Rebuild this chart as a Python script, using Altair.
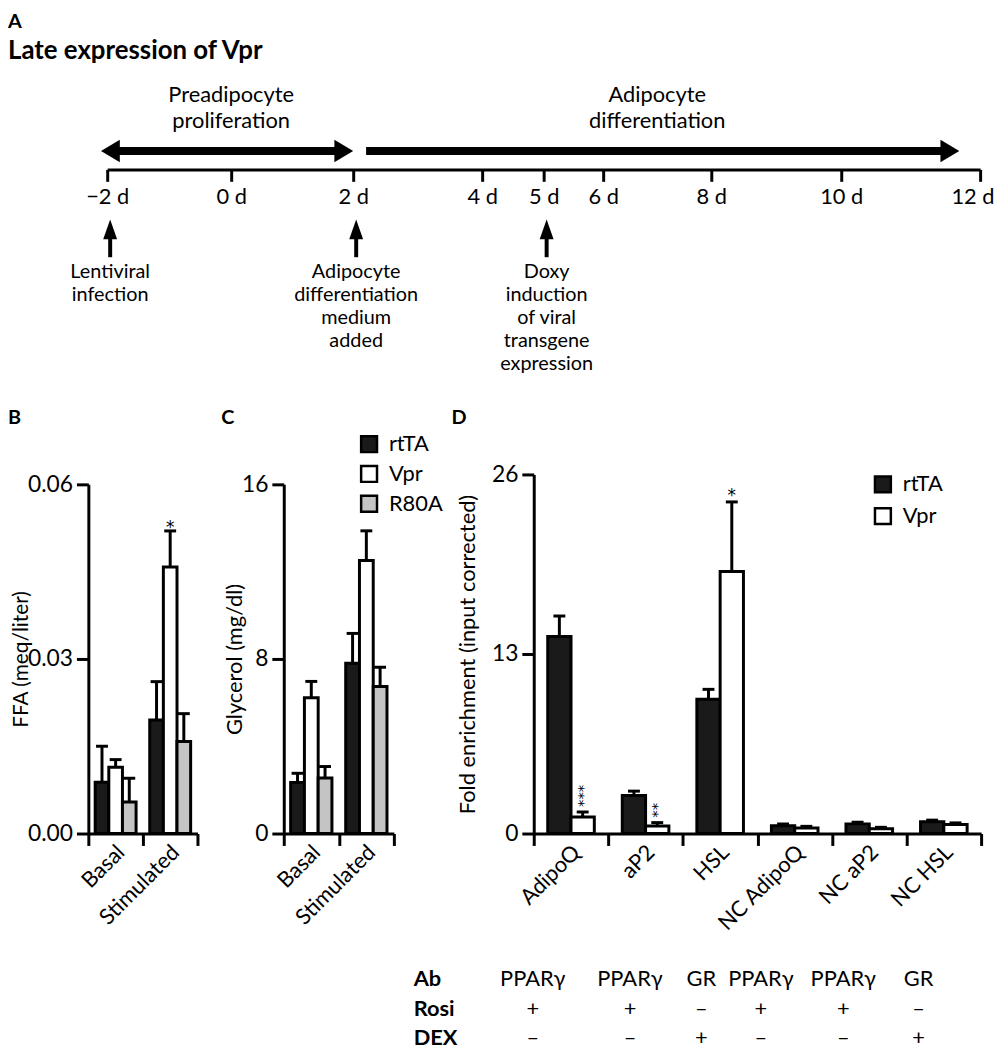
import altair as alt
import pandas as pd

# ---------------- data ----------------
timeline_days = [-2, 0, 2, 4, 5, 6, 8, 10, 12]

phase_labels = ["Preadipocyte\nproliferation", "Adipocyte\ndifferentiation"]
phase_start = [-2.1, 2.2]
phase_end = [2.0, 11.7]
phase_label_day = [0, 7]
phase_two_heads = [True, False]

event_days = [-2, 2, 5]
event_labels = [
    "Lentiviral\ninfection",
    "Adipocyte\ndifferentiation\nmedium\nadded",
    "Doxy\ninduction\nof viral\ntransgene\nexpression",
]

lip_groups = ["Basal", "Stimulated"]
lip_series = ["rtTA", "Vpr", "R80A"]
ffa_mean = {"rtTA": [0.0088, 0.0195], "Vpr": [0.0114, 0.0458], "R80A": [0.0054, 0.0158]}
ffa_err = {"rtTA": [0.0062, 0.0066], "Vpr": [0.0013, 0.0062], "R80A": [0.0041, 0.0048]}
gly_mean = {"rtTA": [2.34, 7.80], "Vpr": [6.22, 12.51], "R80A": [2.54, 6.74]}
gly_err = {"rtTA": [0.42, 1.37], "Vpr": [0.75, 1.36], "R80A": [0.53, 0.88]}
ffa_sig = [("Stimulated", "Vpr", "*")]

genes = ["AdipoQ", "aP2", "HSL", "NC AdipoQ", "NC aP2", "NC HSL"]
chip_series = ["rtTA", "Vpr"]
chip_mean = {"rtTA": [14.27, 2.75, 9.72, 0.57, 0.70, 0.85],
             "Vpr": [1.20, 0.55, 18.98, 0.40, 0.35, 0.65]}
chip_err = {"rtTA": [1.48, 0.32, 0.72, 0.12, 0.12, 0.12],
            "Vpr": [0.36, 0.24, 5.03, 0.12, 0.10, 0.12]}
chip_sig = [("AdipoQ", "Vpr", "***"), ("aP2", "Vpr", "**"), ("HSL", "Vpr", "*")]

table_rows = ["Ab", "Rosi", "DEX"]
table_ab = ["PPARγ", "PPARγ", "GR", "PPARγ", "PPARγ", "GR"]
table_rosi = ["+", "+", "–", "+", "+", "–"]
table_dex = ["–", "–", "+", "–", "–", "+"]

# ---------------- layout / style ----------------
W, H = 995, 1042
FONT = "Lato"
STAR_FONT = "DejaVu Sans"


def P(v):
    return v - 8


TL_TICK_PX = [108, 233, 356, 486, 548, 608, 717, 848, 988]
TABLE_COL_PX = [537, 635, 707, 767, 850, 926]
BLACK, WHITE, GRAY = "#1a1a1a", "#ffffff", "#c4c4c4"
RIGHT_HEAD = "M0,0L-1,-0.6L-1,0.6Z"
LEFT_HEAD = "M0,0L1,-0.6L1,0.6Z"
UP_HEAD = "M0,0L-0.35,1L0.35,1Z"

# ---------------- panel A: timeline ----------------
tl_scale = alt.Scale(domain=timeline_days, range=[P(v) for v in TL_TICK_PX], nice=False, zero=False)
tl_axis = alt.Axis(
    orient="bottom", offset=P(166.5) - H, values=timeline_days, title=None,
    tickSize=12, tickWidth=3, domainWidth=3, labelFontSize=22, labelPadding=5,
    labelOverlap=False, labelFlush=False,
    labelAlign={"condition": {"test": "datum.value == 12", "value": "right"}, "value": "center"},
    labelOffset={"condition": {"test": "datum.value == 12", "value": 14}, "value": 0},
    labelExpr="(datum.value < 0 ? '−' + abs(datum.value) : datum.value) + ' d'")


def AX(f):
    return alt.X(f, scale=tl_scale, axis=tl_axis)


phase_df = pd.DataFrame({"label": phase_labels, "start": phase_start, "end": phase_end,
                         "label_day": phase_label_day, "two_heads": phase_two_heads})
ev_df = pd.DataFrame({"day": event_days, "label": event_labels})

shaft_a = alt.Chart(phase_df).transform_filter("datum.two_heads").mark_rule(
    color="black", strokeWidth=8, xOffset=16, x2Offset=-16).encode(
    x=AX("start:Q"), x2="end:Q", y=alt.value(P(148)))
shaft_b = alt.Chart(phase_df).transform_filter("!datum.two_heads").mark_rule(
    color="black", strokeWidth=8, x2Offset=-16).encode(
    x=AX("start:Q"), x2="end:Q", y=alt.value(P(148)))
rhead = alt.Chart(phase_df).mark_point(shape=RIGHT_HEAD, size=1444, filled=True, color="black",
                                       opacity=1, strokeWidth=0).encode(
    x=AX("end:Q"), y=alt.value(P(148)))
lhead = alt.Chart(phase_df).transform_filter("datum.two_heads").mark_point(
    shape=LEFT_HEAD, size=1444, filled=True, color="black", opacity=1, strokeWidth=0).encode(
    x=AX("start:Q"), y=alt.value(P(148)))
ptext = alt.Chart(phase_df).mark_text(fontSize=22, lineBreak="\n", lineHeight=26, align="center",
                                      baseline="top").encode(
    x=AX("label_day:Q"), y=alt.value(P(82)), text="label:N")

ev_shaft = alt.Chart(ev_df).mark_rule(color="black", strokeWidth=4, xOffset=3).encode(
    x=AX("day:Q"), y=alt.value(P(234)), y2=alt.value(P(255)))
ev_head = alt.Chart(ev_df).mark_point(shape=UP_HEAD, size=1600, filled=True, color="black",
                                      opacity=1, strokeWidth=0, xOffset=3).encode(
    x=AX("day:Q"), y=alt.value(P(217)))
ev_text = alt.Chart(ev_df).mark_text(fontSize=20, lineBreak="\n", lineHeight=23.3, align="center",
                                     baseline="top", dx=3).encode(
    x=AX("day:Q"), y=alt.value(P(260)), text="label:N")

panel_a = alt.layer(shaft_a, shaft_b, rhead, lhead, ptext, ev_shaft, ev_head, ev_text)


# ---------------- bar panels ----------------
def long_df(mean, err, groups, series):
    rows = []
    for s in series:
        for i, g in enumerate(groups):
            rows.append({"group": g, "series": s, "mean": mean[s][i], "top": mean[s][i] + err[s][i]})
    return pd.DataFrame(rows)


def sig_df(df, sig):
    rows = []
    for g, s, m in sig:
        top = float(df[(df.group == g) & (df.series == s)]["top"].iloc[0])
        rows.append({"group": g, "series": s, "mark": m, "top": top})
    return pd.DataFrame(rows)


def bar_panel(df, sig, groups, series, colors, ydomain, yvalues, yfmt, xpx, ytop, ytitle,
              tpad, tsize, legend, opad, star_dy):
    xsc = alt.Scale(domain=groups, range=[P(xpx[0]), P(xpx[1])], paddingInner=0, paddingOuter=0)
    xax = alt.Axis(orient="bottom", offset=P(836) - H, title=None, tickBand="extent", tickSize=12,
                   tickWidth=3, domainWidth=3, labelAngle=-45, labelAlign="right",
                   labelBaseline="middle", labelFontSize=22, labelPadding=3, labelOffset=5,
                   labelOverlap=False)
    ysc = alt.Scale(domain=ydomain, range=[P(836), P(ytop)], nice=False, zero=True)
    yax = alt.Axis(orient="left", offset=-P(xpx[0]), values=yvalues, format=yfmt, title=ytitle,
                   titleFontSize=tsize, titleFontWeight="normal", titleBaseline="alphabetic",
                   titlePadding=tpad, tickSize=12, tickWidth=3, domainWidth=3, labelFontSize=23,
                   labelPadding=4)
    X = alt.X("group:N", sort=groups, scale=xsc, axis=xax)
    XO = alt.XOffset("series:N", sort=series,
                     scale=alt.Scale(domain=series, paddingInner=0, paddingOuter=opad))

    def Y(f):
        return alt.Y(f, scale=ysc, axis=yax)

    bars = alt.Chart(df).mark_bar(stroke="black", strokeWidth=3).encode(
        x=X, xOffset=XO, y=Y("mean:Q"),
        fill=alt.Fill("series:N", sort=series, scale=alt.Scale(domain=series, range=colors),
                      legend=legend))
    err = alt.Chart(df).mark_rule(color="black", strokeWidth=3).encode(
        x=X, xOffset=XO, y=Y("mean:Q"), y2="top:Q")
    cap = alt.Chart(df).mark_tick(color="black", size=12, thickness=3, opacity=1).encode(
        x=X, xOffset=XO, y=Y("top:Q"))
    star_h = alt.Chart(sig).transform_filter("length(datum.mark) == 1").mark_text(
        font=STAR_FONT, fontSize=17, color="black", fill="black", baseline="alphabetic",
        dy=star_dy).encode(
        x=X, xOffset=XO, y=Y("top:Q"), text="mark:N")
    star_v = alt.Chart(sig).transform_filter("length(datum.mark) > 1").mark_text(
        font=STAR_FONT, fontSize=15, color="black", fill="black", angle=270, align="left",
        baseline="middle", dx=5).encode(
        x=X, xOffset=XO, y=Y("top:Q"), text="mark:N")
    return alt.layer(bars, err, cap, star_h, star_v)


ffa_df = long_df(ffa_mean, ffa_err, lip_groups, lip_series)
gly_df = long_df(gly_mean, gly_err, lip_groups, lip_series)
chip_df = long_df(chip_mean, chip_err, genes, chip_series)

panel_b = bar_panel(ffa_df, sig_df(ffa_df, ffa_sig), lip_groups, lip_series, [BLACK, WHITE, GRAY],
                    [0, 0.06], [0, 0.03, 0.06], ".2f", (89, 199), 484, "FFA (meq/liter)", 0, 21,
                    None, 0.5, 2)
panel_c = bar_panel(gly_df, pd.DataFrame({"group": [], "series": [], "mark": [], "top": []}),
                    lip_groups, lip_series, [BLACK, WHITE, GRAY],
                    [0, 16], [0, 8, 16], "d", (286, 397), 484, "Glycerol (mg/dl)", 0, 22,
                    alt.Legend(orient="none", legendX=P(361), legendY=P(432.5), title=None,
                               rowPadding=4), 0.5, 0)
panel_d = bar_panel(chip_df, sig_df(chip_df, chip_sig), genes, chip_series, [BLACK, WHITE],
                    [0, 26], [0, 13, 26], "d", (538, 989), 474,
                    "Fold enrichment (input corrected)", 17, 22,
                    alt.Legend(orient="none", legendX=P(879), legendY=P(473), title=None), 0.6, -1)

# ---------------- table under panel D ----------------
tab_rows = []
for i in range(len(genes)):
    tab_rows.append({"col": i, "row": "Ab", "text": table_ab[i]})
    tab_rows.append({"col": i, "row": "Rosi", "text": table_rosi[i]})
    tab_rows.append({"col": i, "row": "DEX", "text": table_dex[i]})
tab_df = pd.DataFrame(tab_rows)
row_y = alt.Y("row:N", sort=table_rows,
              scale=alt.Scale(type="point", domain=table_rows, range=[P(983), P(1042)], padding=0),
              axis=None)
tab_cells = alt.Chart(tab_df).mark_text(fontSize=22, align="center", baseline="middle").encode(
    x=alt.X("col:Q", scale=alt.Scale(domain=list(range(len(genes))),
                                     range=[P(v) for v in TABLE_COL_PX], nice=False, zero=False),
            axis=None),
    y=row_y, text="text:N")
tab_head = alt.Chart(pd.DataFrame({"row": table_rows})).mark_text(
    fontSize=22, fontWeight="bold", align="left", baseline="middle").encode(
    x=alt.value(P(417)), y=row_y, text="row:N")
table = alt.layer(tab_cells, tab_head)


# ---------------- panel letters and title ----------------
def label(t, x, y, size=20):
    return alt.Chart(pd.DataFrame({"t": [t]})).mark_text(
        fontSize=size, fontWeight="bold", align="left", baseline="alphabetic").encode(
        x=alt.value(x), y=alt.value(y), text="t:N")


letters = [
    label("A", 0, P(24)),
    label("Late expression of Vpr", 0, P(55), 26),
    label("B", 0, P(423)),
    label("C", P(223), P(423)),
    label("D", P(455), P(423)),
]

chart = alt.layer(panel_a, panel_b, panel_c, panel_d, table, *letters).resolve_scale(
    x="independent", y="independent", fill="independent", xOffset="independent"
).properties(
    width=W, height=H, autosize=alt.AutoSizeParams(type="none"), padding=0
).configure_view(stroke=None).configure_axis(
    labelFont=FONT, titleFont=FONT, labelColor="black", titleColor="black",
    domainColor="black", tickColor="black", grid=False
).configure_text(font=FONT, color="black").configure_legend(
    labelFont=FONT, labelFontSize=22, labelColor="black", padding=0, symbolType="square",
    symbolSize=256, symbolStrokeColor="black", symbolStrokeWidth=2.5, labelOffset=9,
    rowPadding=6
)

chart.save("out.html", embed_options={"renderer": "svg", "actions": False})
